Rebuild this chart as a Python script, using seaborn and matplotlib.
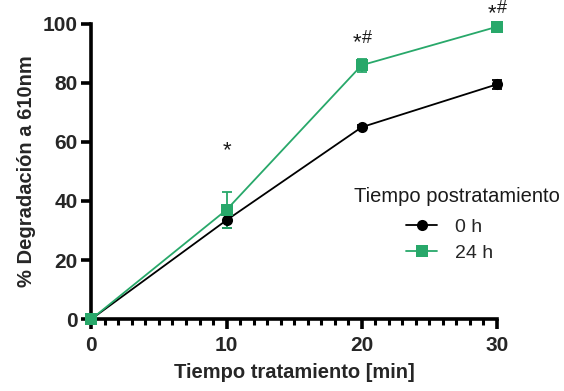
import matplotlib
matplotlib.use("Agg")
import matplotlib.pyplot as plt
from matplotlib.lines import Line2D
from matplotlib.ticker import MultipleLocator
import pandas as pd
import seaborn as sns

# Degradation data (mean ± SEM)
tiempo = [0, 10, 20, 30]
grupos = ["0 h", "24 h"]
deg_0h = [0.0, 33.5, 65.0, 79.5]
err_0h = [0.0, 2.5, 0.8, 1.5]
deg_24h = [0.0, 37.0, 86.0, 99.0]
err_24h = [0.0, 6.0, 2.2, 0.8]
# significance marks
sig_x = [10, 20, 30]
sig_y = [58.0, 94.5, 104.5]
sig_star = ["*", "*", "*"]
sig_hash = ["", "#", "#"]

colores = {"0 h": "#000000", "24 h": "#28a86a"}
marcadores = {"0 h": "o", "24 h": "s"}

df = pd.DataFrame({
    "tiempo": tiempo * 2,
    "deg": deg_0h + deg_24h,
    "err": err_0h + err_24h,
    "grupo": [grupos[0]] * 4 + [grupos[1]] * 4,
})

sns.set_style("white")
plt.rcParams["font.family"] = ["Liberation Sans", "DejaVu Sans"]

fig = plt.figure(figsize=(5.64, 3.91), dpi=100)
ax = fig.add_axes([0.162, 0.184, 0.719, 0.755])

for g in grupos:
    sub = df[df["grupo"] == g]
    ax.errorbar(sub["tiempo"], sub["deg"], yerr=sub["err"], fmt="none",
                ecolor=colores[g], elinewidth=1.3, capsize=3.5, capthick=1.3,
                zorder=3, clip_on=False)

sns.lineplot(data=df, x="tiempo", y="deg", hue="grupo", style="grupo",
             palette=colores, markers=marcadores, dashes=False,
             markersize=8, markeredgewidth=0, linewidth=1.3,
             legend=False, ax=ax, zorder=4)
for ln in ax.lines:
    ln.set_clip_on(False)

for x, y, s, h in zip(sig_x, sig_y, sig_star, sig_hash):
    if h:
        ax.annotate(s, (x, y), xytext=(-0.5, -2), textcoords="offset points",
                    ha="right", va="center", fontsize=16, color="#1a1a1a",
                    annotation_clip=False)
        ax.annotate(h, (x, y), xytext=(0, 1.5), textcoords="offset points",
                    ha="left", va="center", fontsize=13, color="#1a1a1a",
                    annotation_clip=False)
    else:
        ax.annotate(s, (x, y), xytext=(0, -2), textcoords="offset points",
                    ha="center", va="center", fontsize=16, color="#1a1a1a",
                    annotation_clip=False)

ax.set_xlim(0, 30)
ax.set_ylim(0, 100)
ax.set_xticks([0, 10, 20, 30])
ax.set_yticks([0, 20, 40, 60, 80, 100])
ax.xaxis.set_minor_locator(MultipleLocator(1))

for side in ["top", "right"]:
    ax.spines[side].set_visible(False)
for side in ["left", "bottom"]:
    ax.spines[side].set_linewidth(2.6)
    ax.spines[side].set_color("black")

ax.tick_params(axis="both", which="major", direction="out", length=7,
               width=2.6, color="black", labelsize=15, pad=3)
ax.tick_params(axis="x", which="minor", direction="out", length=4.5,
               width=2.2, color="black", bottom=True)
ax.tick_params(axis="y", which="major", left=True)
ax.tick_params(axis="x", which="major", bottom=True, pad=5)
for lab in ax.get_xticklabels() + ax.get_yticklabels():
    lab.set_fontweight("bold")

ax.set_xlabel("Tiempo tratamiento [min]", fontsize=14.5, fontweight="bold",
              labelpad=6)
ax.set_ylabel("% Degradación a 610nm", fontsize=14.5, fontweight="bold",
              labelpad=5)

# legend: title placed on its own, entries below it
fig.text(457 / 564, 1 - 196 / 391, "Tiempo postratamiento", ha="center",
         va="center", fontsize=14.5, color="#1a1a1a")
handles = [Line2D([0], [0], color=colores[g], marker=marcadores[g],
                  markersize=8, markeredgewidth=0, linewidth=1.3)
           for g in grupos]
leg = ax.legend(handles, grupos, loc="center left",
                bbox_to_anchor=(406 / 564, 1 - 240 / 391),
                bbox_transform=fig.transFigure, frameon=False,
                fontsize=14, handlelength=1.6, handletextpad=0.9,
                labelspacing=0.45, borderpad=0, borderaxespad=0)

fig.savefig("out.png", dpi=100)
